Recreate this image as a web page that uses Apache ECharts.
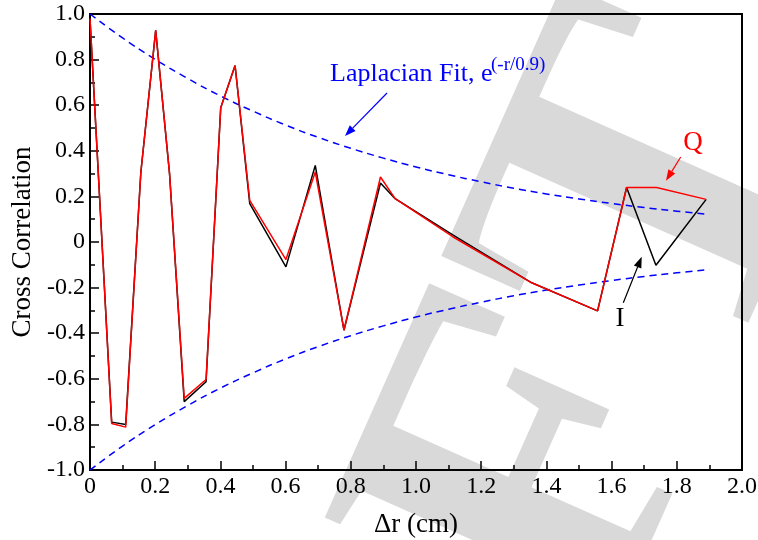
<!DOCTYPE html>
<html><head><meta charset="utf-8">
<script src="https://cdn.jsdelivr.net/npm/echarts@6/dist/echarts.min.js"></script>
<style>html,body{margin:0;padding:0;background:#fff}#c{width:758px;height:540px}</style>
</head><body><div id="c"></div><script>
// I channel (black)
const xI = [0, 0.0665, 0.1095, 0.156, 0.2015, 0.244, 0.289, 0.356, 0.401, 0.445, 0.49, 0.601, 0.691, 0.779, 0.891, 0.936, 1.114, 1.355, 1.557, 1.646, 1.736, 1.89];
const yI = [0.98, -0.790, -0.800, 0.306, 0.928, 0.30, -0.700, -0.613, 0.589, 0.774, 0.168, -0.109, 0.336, -0.387, 0.259, 0.19, 0.03, -0.179, -0.302, 0.239, -0.102, 0.187];
// Q channel (red)
const xQ = [0, 0.0665, 0.1095, 0.156, 0.2015, 0.244, 0.289, 0.356, 0.401, 0.445, 0.49, 0.601, 0.691, 0.779, 0.891, 0.936, 1.114, 1.355, 1.557, 1.646, 1.738, 1.89];
const yQ = [0.98, -0.796, -0.812, 0.306, 0.928, 0.30, -0.686, -0.603, 0.589, 0.774, 0.183, -0.077, 0.307, -0.387, 0.285, 0.19, 0.022, -0.179, -0.302, 0.239, 0.239, 0.187];
// Laplacian fit envelope
const xFit = [0, 0.1, 0.2, 0.3, 0.4, 0.5, 0.6, 0.7, 0.8, 0.9, 1.0, 1.1, 1.2, 1.3, 1.4, 1.5, 1.6, 1.7, 1.8, 1.9];
const fitUpper = [1.0, 0.895, 0.801, 0.717, 0.641, 0.574, 0.513, 0.459, 0.411, 0.368, 0.329, 0.295, 0.264, 0.236, 0.211, 0.189, 0.169, 0.151, 0.135, 0.121];
const fitLower = [-1.0, -0.895, -0.801, -0.717, -0.641, -0.574, -0.513, -0.459, -0.411, -0.368, -0.329, -0.295, -0.264, -0.236, -0.211, -0.189, -0.169, -0.151, -0.135, -0.121];
const xTickLabels = ['0', '0.2', '0.4', '0.6', '0.8', '1.0', '1.2', '1.4', '1.6', '1.8', '2.0'];
const yTickLabels = ['-1.0', '-0.8', '-0.6', '-0.4', '-0.2', '0', '0.2', '0.4', '0.6', '0.8', '1.0'];

const FF = 'Liberation Serif';
const pairs = (xs, ys) => xs.map((x, i) => [x, ys[i]]);

function arrow(x1, y1, x2, y2, color, w) {
  const a = Math.atan2(y2 - y1, x2 - x1), L = 11, H = 4;
  const bx = x2 - L * Math.cos(a), by = y2 - L * Math.sin(a);
  return [
    {type: 'line', z: 50, shape: {x1: x1, y1: y1, x2: bx, y2: by}, style: {stroke: color, lineWidth: w}},
    {type: 'polygon', z: 50, shape: {points: [[x2, y2], [bx + H * Math.sin(a), by - H * Math.cos(a)], [bx - H * Math.sin(a), by + H * Math.cos(a)]]}, style: {fill: color}}
  ];
}
function label(text, x, y, size, color, align) {
  return {type: 'text', x: x, y: y, z: 50, silent: true,
    style: {text: text, fontSize: size, fontFamily: FF, fill: color, textAlign: align, textVerticalAlign: 'middle'}};
}

const chart = echarts.init(document.getElementById('c'), null, {renderer: 'canvas'});
const axisCommon = {
  type: 'value',
  axisLine: {show: true, onZero: false, lineStyle: {color: '#000', width: 2}},
  axisTick: {show: true, inside: true, length: 9, lineStyle: {color: '#000', width: 1.5}},
  minorTick: {show: true, splitNumber: 2, length: 5, lineStyle: {color: '#000', width: 1.5}},
  splitLine: {show: false},
  minorSplitLine: {show: false}
};
chart.setOption({
  animation: false,
  backgroundColor: '#fff',
  grid: {left: 90, right: 16, top: 14, bottom: 70, show: true, borderColor: '#000', borderWidth: 2,
    containLabel: false, outerBoundsMode: 'none'},
  xAxis: Object.assign({}, axisCommon, {
    min: 0, max: 2, interval: 0.2,
    axisLabel: {color: '#000', fontFamily: FF, fontSize: 24, margin: 5,
      formatter: v => xTickLabels[Math.round(v / 0.2)]},
    name: 'Δr (cm)', nameLocation: 'middle', nameGap: 41,
    nameTextStyle: {color: '#000', fontFamily: FF, fontSize: 27}
  }),
  yAxis: Object.assign({}, axisCommon, {
    min: -1, max: 1, interval: 0.2,
    axisLabel: {color: '#000', fontFamily: FF, fontSize: 24, margin: 5,
      formatter: v => yTickLabels[Math.round((v + 1) / 0.2)]},
    name: 'Cross Correlation', nameLocation: 'middle', nameGap: 52, nameRotate: 90,
    nameTextStyle: {color: '#000', fontFamily: FF, fontSize: 27}
  }),
  graphic: [
    {type: 'text', x: 736, y: 52, rotation: 66 * Math.PI / 180, z: -10, silent: true,
      style: {text: 'DRAFT', fontSize: 470, fontWeight: 'bold', fontFamily: FF, fill: '#d9d9d9',
        textAlign: 'right', textVerticalAlign: 'middle'}},
    label('Laplacian Fit, e', 330, 74, 26, '#0000ff', 'left'),
    label('(-r/0.9)', 491, 65, 19, '#0000ff', 'left'),
    label('Q', 693, 143, 27, '#ff0000', 'center'),
    label('I', 620, 319, 27, '#000', 'center')
  ].concat(arrow(387, 93, 345, 136, '#0000ff', 1.2))
   .concat(arrow(680.7, 157, 666, 180.7, '#ff0000', 1.2))
   .concat(arrow(623.3, 302.7, 641.7, 256.7, '#000', 1.2)),
  series: [
    {type: 'line', data: pairs(xFit, fitUpper), smooth: true, symbol: 'none', z: 3,
      lineStyle: {color: '#0000ff', width: 1.5, type: [7, 5]}},
    {type: 'line', data: pairs(xFit, fitLower), smooth: true, symbol: 'none', z: 3,
      lineStyle: {color: '#0000ff', width: 1.5, type: [7, 5]}},
    {type: 'line', data: pairs(xI, yI), symbol: 'none', z: 4,
      lineStyle: {color: '#000', width: 1.5}},
    {type: 'line', data: pairs(xQ, yQ), symbol: 'none', z: 5,
      lineStyle: {color: '#ff0000', width: 1.5}}
  ]
});
</script></body></html>
